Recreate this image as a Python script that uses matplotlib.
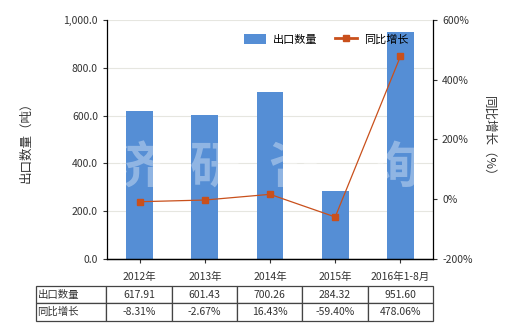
import matplotlib
matplotlib.use("Agg")
import matplotlib.pyplot as plt
import numpy as np

plt.rcParams['font.family'] = ['Noto Sans CJK SC', 'DejaVu Sans']

categories = ['2012年', '2013年', '2014年', '2015年', '2016年1-8月']
export_qty = [617.91, 601.43, 700.26, 284.32, 951.60]
yoy_growth = [-8.31, -2.67, 16.43, -59.40, 478.06]
qty_labels = ['617.91', '601.43', '700.26', '284.32', '951.60']
growth_labels = ['-8.31%', '-2.67%', '16.43%', '-59.40%', '478.06%']

bar_color = '#558ED5'
line_color = '#C9501C'
text_color = '#333333'

fig = plt.figure(figsize=(5.2, 3.3), dpi=100)
ax = fig.add_axes([0.2058, 0.2152, 0.6269, 0.7242])
ax2 = ax.twinx()

x = np.arange(len(categories))
ax.bar(x, export_qty, width=0.41, color=bar_color, zorder=2, label='出口数量')
ax.set_xlim(-0.5, len(categories) - 0.5)
ax.set_ylim(0, 1000)
ax.set_yticks(np.arange(0, 1001, 200))
ax.set_yticklabels([f'{v:,.1f}' for v in np.arange(0, 1001, 200)])
ax.yaxis.grid(True, color='#E6E6E0', linewidth=0.8, zorder=0)
ax.set_axisbelow(True)
ax.set_xticks(x)
ax.set_xticklabels(categories)
ax.set_ylabel('出口数量（吨）', fontsize=9, color=text_color, labelpad=22)

ax2.plot(x, yoy_growth, color=line_color, linewidth=0.9, marker='s',
         markersize=4.5, label='同比增长', zorder=3)
ax2.set_ylim(-200, 600)
ax2.set_yticks(np.arange(-200, 601, 200))
ax2.set_yticklabels([f'{v}%' for v in range(-200, 601, 200)])
ax2.set_ylabel('同比增长（%）', fontsize=9, color=text_color, rotation=-90, labelpad=16)

for a in (ax, ax2):
    a.tick_params(labelsize=7.5, colors=text_color, length=3, width=0.8)
    a.spines['top'].set_visible(False)
    for s in ('left', 'right', 'bottom'):
        a.spines[s].set_color('#000000')
        a.spines[s].set_linewidth(0.9)
ax.tick_params(axis='x', pad=6)
ax2.spines['left'].set_visible(False)
ax.spines['right'].set_visible(False)

# watermark
for ch, xp in zip('济研咨询', [0.09, 0.33, 0.57, 0.88]):
    ax.text(xp, 0.38, ch, transform=ax.transAxes, fontsize=36, color='white',
            alpha=0.35, ha='center', va='center', fontweight='bold', zorder=4)

h1, l1 = ax.get_legend_handles_labels()
h2, l2 = ax2.get_legend_handles_labels()
leg = ax2.legend(h1 + h2, l1 + l2, loc='upper right', bbox_to_anchor=(0.955, 0.985),
                 ncol=2, frameon=False, fontsize=8, handlelength=2.0, handleheight=1.1,
                 columnspacing=1.6, handletextpad=0.6)
leg.get_lines()[0].set_linewidth(2)

cell_text = [['出口数量'] + qty_labels, ['同比增长'] + growth_labels]
table = ax.table(cellText=cell_text, cellLoc='center',
                 colWidths=[71] + [66] * 5,
                 bbox=[-0.2178, -0.2594, 1.2178, 0.1477])
table.auto_set_font_size(False)
table.set_fontsize(7.5)
for (r, c), cell in table.get_celld().items():
    cell.set_edgecolor('#444444')
    cell.set_linewidth(0.9)
    cell.get_text().set_color(text_color)
    if c == 0:
        cell.get_text().set_ha('left')
        cell.PAD = 0.02

fig.savefig('out.png', dpi=100)
